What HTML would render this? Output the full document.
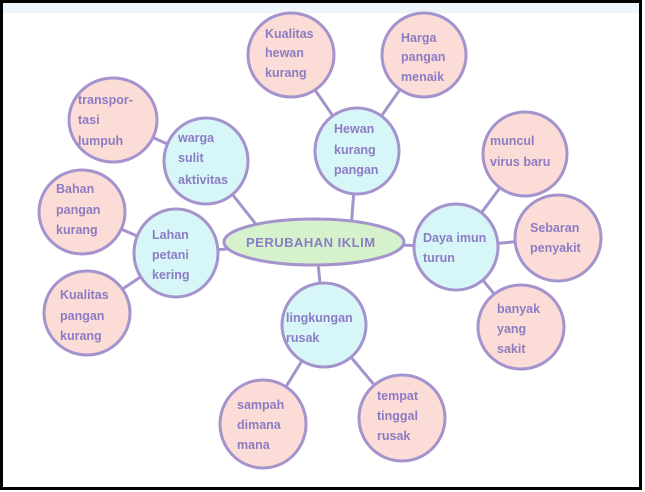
<!DOCTYPE html>
<html><head><style>
html,body{margin:0;padding:0;background:#fff;}
svg{display:block;}
text{font-family:"Liberation Sans",sans-serif;font-weight:bold;font-size:12.5px;fill:#8c7cc4;}
</style></head><body>
<svg width="645" height="492" viewBox="0 0 645 492" xmlns="http://www.w3.org/2000/svg">
<rect x="0" y="0" width="645" height="492" fill="#fff"/>
<rect x="3" y="3" width="636" height="10" fill="#eef5fb"/>
<rect x="1.5" y="1.5" width="639" height="487" fill="none" stroke="#000" stroke-width="3"/>
<g stroke="#a493cc" stroke-width="3" fill="none">
<line x1="291" y1="55" x2="357" y2="151"/>
<line x1="424" y1="55" x2="357" y2="151"/>
<line x1="357" y1="151" x2="350" y2="242"/>
<line x1="113" y1="120" x2="206" y2="161"/>
<line x1="206" y1="161" x2="270" y2="242"/>
<line x1="82" y1="212" x2="176" y2="253"/>
<line x1="87" y1="313" x2="176" y2="253"/>
<line x1="176" y1="253" x2="316" y2="242"/>
<line x1="316" y1="242" x2="456" y2="247"/>
<line x1="525" y1="154" x2="456" y2="247"/>
<line x1="558" y1="238" x2="456" y2="247"/>
<line x1="521" y1="327" x2="456" y2="247"/>
<line x1="316" y1="242" x2="324" y2="325"/>
<line x1="263" y1="424" x2="324" y2="325"/>
<line x1="402" y1="418" x2="324" y2="325"/>
</g>
<g stroke="#a493cc" stroke-width="3">
<ellipse cx="291" cy="55" rx="43" ry="42" fill="#fcdcd6"/>
<ellipse cx="424" cy="55" rx="42" ry="42" fill="#fcdcd6"/>
<ellipse cx="113" cy="120" rx="44" ry="42" fill="#fcdcd6"/>
<ellipse cx="525" cy="154" rx="42" ry="42" fill="#fcdcd6"/>
<ellipse cx="82" cy="212" rx="43" ry="42" fill="#fcdcd6"/>
<ellipse cx="558" cy="238" rx="43" ry="43" fill="#fcdcd6"/>
<ellipse cx="87" cy="313" rx="43" ry="42" fill="#fcdcd6"/>
<ellipse cx="521" cy="327" rx="43" ry="42" fill="#fcdcd6"/>
<ellipse cx="263" cy="424" rx="43" ry="44" fill="#fcdcd6"/>
<ellipse cx="402" cy="418" rx="43" ry="43" fill="#fcdcd6"/>
<ellipse cx="206" cy="161" rx="42" ry="43" fill="#d6f6f8"/>
<ellipse cx="357" cy="151" rx="42" ry="43" fill="#d6f6f8"/>
<ellipse cx="176" cy="253" rx="42" ry="44" fill="#d6f6f8"/>
<ellipse cx="456" cy="247" rx="42" ry="43" fill="#d6f6f8"/>
<ellipse cx="324" cy="325" rx="42" ry="42" fill="#d6f6f8"/>
<ellipse cx="314" cy="242" rx="90" ry="23" fill="#d6f2cc"/>
</g>
<text x="265" y="38">Kualitas</text><text x="265" y="57">hewan</text><text x="265" y="77">kurang</text>
<text x="401" y="42">Harga</text><text x="401" y="61">pangan</text><text x="401" y="81">menaik</text>
<text x="78" y="104">transpor-</text><text x="78" y="124">tasi</text><text x="78" y="145">lumpuh</text>
<text x="178" y="142">warga</text><text x="178" y="162">sulit</text><text x="178" y="184">aktivitas</text>
<text x="334" y="133">Hewan</text><text x="334" y="154">kurang</text><text x="334" y="174">pangan</text>
<text x="490" y="145">muncul</text><text x="490" y="166">virus baru</text>
<text x="56" y="193">Bahan</text><text x="56" y="214">pangan</text><text x="56" y="234">kurang</text>
<text x="530" y="232">Sebaran</text><text x="530" y="252">penyakit</text>
<text x="152" y="239">Lahan</text><text x="152" y="259">petani</text><text x="152" y="279">kering</text>
<text x="246" y="247" style="font-size:13px;letter-spacing:0.5px">PERUBAHAN IKLIM</text>
<text x="423" y="242">Daya imun</text><text x="423" y="262">turun</text>
<text x="60" y="299">Kualitas</text><text x="60" y="320">pangan</text><text x="60" y="340">kurang</text>
<text x="286" y="322">lingkungan</text><text x="286" y="342">rusak</text>
<text x="497" y="313">banyak</text><text x="497" y="333">yang</text><text x="497" y="353">sakit</text>
<text x="237" y="409">sampah</text><text x="237" y="429">dimana</text><text x="237" y="449">mana</text>
<text x="377" y="400">tempat</text><text x="377" y="420">tinggal</text><text x="377" y="440">rusak</text>
</svg>
</body></html>
